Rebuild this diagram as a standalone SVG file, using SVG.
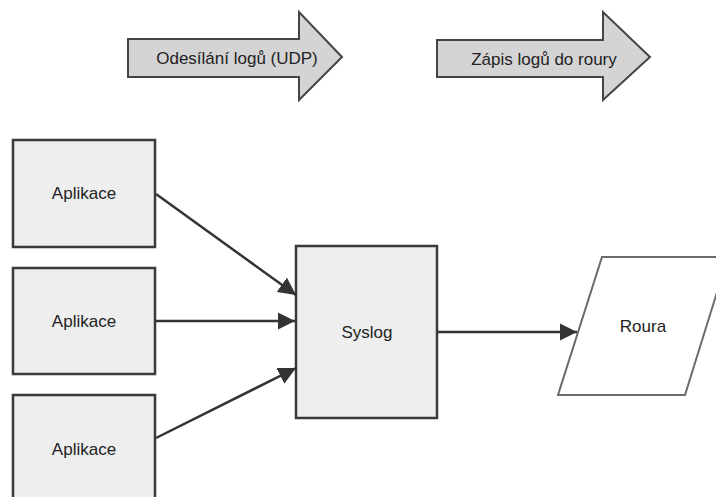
<svg xmlns="http://www.w3.org/2000/svg" width="716" height="497" viewBox="0 0 716 497">
  <style>
    .lbl { font-family: "Liberation Sans", Arial, sans-serif; font-size: 17px; fill: #222; text-anchor: middle; }
    .box { fill: #eeeeee; stroke: #3a3a3a; stroke-width: 2.5; }
    .step { fill: #d4d4d4; stroke: #444; stroke-width: 2; stroke-linejoin: miter; }
    .pipe { fill: #ffffff; stroke: #6a6a6a; stroke-width: 2; }
    .edge { stroke: #333; stroke-width: 2.5; fill: none; marker-end: url(#head); }
  </style>
  <defs>
    <marker id="head" viewBox="0 0 10 10" refX="10" refY="5" markerWidth="7" markerHeight="7" orient="auto" markerUnits="strokeWidth">
      <path d="M0,0 L10,5 L0,10 Z" fill="#333"/>
    </marker>
  </defs>

  <g id="step-send">
    <polygon class="step" points="128,39 299,39 299,12 342,57 299,100 299,77 128,77"/>
    <text class="lbl" x="237" y="64">Odesílání logů (UDP)</text>
  </g>
  <g id="step-write">
    <polygon class="step" points="437,40 603,40 603,12 650,57 603,100 603,77 437,77"/>
    <text class="lbl" x="544" y="65">Zápis logů do roury</text>
  </g>

  <g id="app1">
    <rect class="box" x="13" y="140" width="142" height="107"/>
    <text class="lbl" x="84" y="199">Aplikace</text>
  </g>
  <g id="app2">
    <rect class="box" x="13" y="268" width="142" height="106"/>
    <text class="lbl" x="84" y="327">Aplikace</text>
  </g>
  <g id="app3">
    <rect class="box" x="13" y="395" width="142" height="108"/>
    <text class="lbl" x="84" y="455">Aplikace</text>
  </g>

  <g id="syslog">
    <rect class="box" x="296" y="246" width="141" height="172"/>
    <text class="lbl" x="367" y="338">Syslog</text>
  </g>

  <g id="roura">
    <polygon class="pipe" points="602,257 728,257 685,395 558,395"/>
    <text class="lbl" x="643" y="332">Roura</text>
  </g>

  <g id="connectors">
    <line class="edge" x1="156" y1="194" x2="296" y2="295"/>
    <line class="edge" x1="156" y1="321" x2="295" y2="321"/>
    <line class="edge" x1="156" y1="438" x2="296" y2="368"/>
    <line class="edge" x1="437" y1="332" x2="577" y2="332"/>
  </g>
</svg>
